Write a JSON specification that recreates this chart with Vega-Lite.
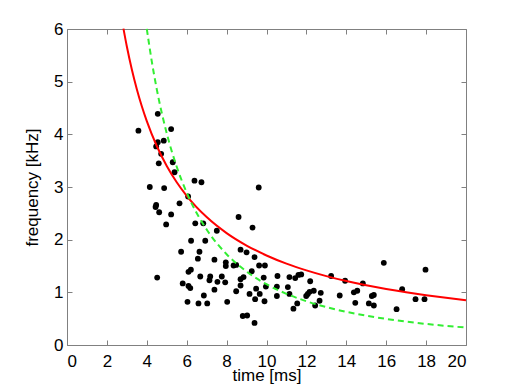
{
  "$schema": "https://vega.github.io/schema/vega-lite/v6.json",
  "autosize": "none",
  "width": 399,
  "height": 316,
  "padding": {"left": 67, "top": 29, "right": 49, "bottom": 42},
  "background": "white",
  "config": {
    "view": {"stroke": null},
    "font": "Liberation Sans",
    "axis": {
      "grid": false,
      "domainColor": "#808080",
      "domainWidth": 1,
      "tickColor": "#808080",
      "tickSize": -5,
      "labelFont": "Liberation Sans",
      "labelFontSize": 17,
      "labelColor": "black",
      "titleFont": "Liberation Sans",
      "titleFontSize": 17,
      "titleFontWeight": "normal",
      "titleColor": "black"
    }
  },
  "datasets": {
    "points": [
      {"t": 4.55, "f": 4.39}, {"t": 3.58, "f": 4.07}, {"t": 5.22, "f": 4.10}, {"t": 4.55, "f": 3.85},
      {"t": 4.47, "f": 3.77}, {"t": 4.85, "f": 3.88}, {"t": 4.72, "f": 3.63}, {"t": 4.60, "f": 3.45},
      {"t": 5.30, "f": 3.47}, {"t": 5.39, "f": 3.28}, {"t": 4.15, "f": 3.00}, {"t": 4.87, "f": 2.98},
      {"t": 6.39, "f": 3.12}, {"t": 6.74, "f": 3.09}, {"t": 6.07, "f": 2.82}, {"t": 4.47, "f": 2.66},
      {"t": 4.44, "f": 2.62}, {"t": 5.64, "f": 2.69}, {"t": 4.62, "f": 2.52}, {"t": 5.22, "f": 2.48},
      {"t": 4.97, "f": 2.29}, {"t": 6.43, "f": 2.31}, {"t": 6.83, "f": 2.31}, {"t": 7.51, "f": 2.17},
      {"t": 6.22, "f": 1.98}, {"t": 6.93, "f": 1.98}, {"t": 5.72, "f": 1.77}, {"t": 6.64, "f": 1.77},
      {"t": 6.56, "f": 1.64}, {"t": 7.39, "f": 1.62}, {"t": 7.96, "f": 1.57}, {"t": 7.96, "f": 1.50},
      {"t": 6.21, "f": 1.43}, {"t": 6.09, "f": 1.39}, {"t": 4.52, "f": 1.28}, {"t": 6.68, "f": 1.30},
      {"t": 7.18, "f": 1.30}, {"t": 7.14, "f": 1.23}, {"t": 7.76, "f": 1.30}, {"t": 7.54, "f": 1.20},
      {"t": 7.93, "f": 1.19}, {"t": 5.80, "f": 1.17}, {"t": 6.09, "f": 1.12}, {"t": 6.18, "f": 1.08},
      {"t": 7.39, "f": 1.05}, {"t": 6.86, "f": 0.94}, {"t": 6.04, "f": 0.82}, {"t": 6.59, "f": 0.79},
      {"t": 7.03, "f": 0.79}, {"t": 8.03, "f": 0.82},
      {"t": 9.61, "f": 2.99}, {"t": 8.60, "f": 2.43}, {"t": 9.30, "f": 2.23}, {"t": 8.70, "f": 1.81},
      {"t": 9.00, "f": 1.76}, {"t": 9.40, "f": 1.67}, {"t": 8.35, "f": 1.51}, {"t": 8.48, "f": 1.52},
      {"t": 9.63, "f": 1.51}, {"t": 9.92, "f": 1.51}, {"t": 9.26, "f": 1.40}, {"t": 8.70, "f": 1.25},
      {"t": 8.85, "f": 1.29}, {"t": 9.86, "f": 1.28}, {"t": 10.55, "f": 1.31}, {"t": 11.15, "f": 1.29},
      {"t": 11.44, "f": 1.27}, {"t": 11.60, "f": 1.33}, {"t": 11.74, "f": 1.34}, {"t": 12.19, "f": 1.21},
      {"t": 8.70, "f": 1.13}, {"t": 9.97, "f": 1.11}, {"t": 10.52, "f": 1.11}, {"t": 11.07, "f": 1.10},
      {"t": 9.48, "f": 1.07}, {"t": 8.48, "f": 1.02}, {"t": 12.37, "f": 1.03}, {"t": 12.16, "f": 1.01},
      {"t": 12.72, "f": 0.99}, {"t": 9.15, "f": 0.97}, {"t": 9.66, "f": 0.97}, {"t": 11.15, "f": 0.97},
      {"t": 11.99, "f": 0.93}, {"t": 12.07, "f": 0.97}, {"t": 10.52, "f": 0.93}, {"t": 9.43, "f": 0.87},
      {"t": 9.90, "f": 0.83}, {"t": 12.66, "f": 0.84}, {"t": 12.44, "f": 0.75}, {"t": 11.54, "f": 0.79},
      {"t": 11.35, "f": 0.69}, {"t": 8.81, "f": 0.55}, {"t": 9.03, "f": 0.56}, {"t": 9.40, "f": 0.42},
      {"t": 15.88, "f": 1.56}, {"t": 17.97, "f": 1.43}, {"t": 13.24, "f": 1.31}, {"t": 13.94, "f": 1.22},
      {"t": 14.83, "f": 1.17}, {"t": 16.80, "f": 1.06}, {"t": 14.38, "f": 1.00}, {"t": 14.55, "f": 1.03},
      {"t": 13.67, "f": 0.94}, {"t": 15.28, "f": 0.93}, {"t": 15.38, "f": 0.95}, {"t": 17.47, "f": 0.87},
      {"t": 17.92, "f": 0.87}, {"t": 14.45, "f": 0.80}, {"t": 15.13, "f": 0.79}, {"t": 15.38, "f": 0.75},
      {"t": 16.52, "f": 0.68}
    ],
    "red": [
      {"t": 2.83, "f": 6.007}, {"t": 3, "f": 5.667}, {"t": 3.25, "f": 5.231}, {"t": 3.5, "f": 4.857},
      {"t": 3.75, "f": 4.533}, {"t": 4, "f": 4.25}, {"t": 4.5, "f": 3.778}, {"t": 5, "f": 3.4},
      {"t": 5.5, "f": 3.091}, {"t": 6, "f": 2.833}, {"t": 7, "f": 2.429}, {"t": 8, "f": 2.125},
      {"t": 9, "f": 1.889}, {"t": 10, "f": 1.7}, {"t": 11, "f": 1.545}, {"t": 12, "f": 1.417},
      {"t": 13, "f": 1.308}, {"t": 14, "f": 1.214}, {"t": 15, "f": 1.133}, {"t": 16, "f": 1.0625},
      {"t": 17, "f": 1.0}, {"t": 18, "f": 0.944}, {"t": 19, "f": 0.895}, {"t": 20, "f": 0.85}
    ],
    "green": [
      {"t": 4, "f": 6.004}, {"t": 4.25, "f": 5.384}, {"t": 4.5, "f": 4.857}, {"t": 5, "f": 4.018},
      {"t": 5.5, "f": 3.385}, {"t": 6, "f": 2.894}, {"t": 7, "f": 2.193}, {"t": 8, "f": 1.724},
      {"t": 9, "f": 1.395}, {"t": 10, "f": 1.154}, {"t": 11, "f": 0.972}, {"t": 12, "f": 0.831},
      {"t": 13, "f": 0.719}, {"t": 14, "f": 0.630}, {"t": 15, "f": 0.556}, {"t": 16, "f": 0.495},
      {"t": 17, "f": 0.444}, {"t": 18, "f": 0.400}, {"t": 19, "f": 0.363}, {"t": 20, "f": 0.331}
    ]
  },
  "layer": [
    {
      "data": {"name": "points"},
      "mark": {"type": "circle", "color": "black", "opacity": 1, "size": 34},
      "encoding": {
        "x": {"field": "t", "type": "quantitative", "scale": {"domain": [0, 20], "nice": false},
          "axis": {"orient": "bottom", "title": "time [ms]", "values": [0,2,4,6,8,10,12,14,16,18,20], "labelPadding": 13, "titlePadding": -2}},
        "y": {"field": "f", "type": "quantitative", "scale": {"domain": [0, 6], "nice": false},
          "axis": {"orient": "left", "title": "frequency [kHz]", "values": [0,1,2,3,4,5,6], "labelPadding": 9, "titlePadding": 12}}
      }
    },
    {
      "data": {"name": "red"},
      "mark": {"type": "line", "color": "#ff0000", "strokeWidth": 2, "interpolate": "monotone"},
      "encoding": {
        "x": {"field": "t", "type": "quantitative",
          "axis": {"orient": "top", "title": null, "labels": false, "values": [0,2,4,6,8,10,12,14,16,18,20]}},
        "y": {"field": "f", "type": "quantitative",
          "axis": {"orient": "right", "title": null, "labels": false, "values": [0,1,2,3,4,5,6]}}
      }
    },
    {
      "data": {"name": "green"},
      "mark": {"type": "line", "color": "#33ee33", "strokeWidth": 2, "strokeDash": [6, 4], "interpolate": "monotone"},
      "encoding": {
        "x": {"field": "t", "type": "quantitative", "axis": null},
        "y": {"field": "f", "type": "quantitative", "axis": null}
      }
    }
  ],
  "resolve": {"axis": {"x": "independent", "y": "independent"}}
}
